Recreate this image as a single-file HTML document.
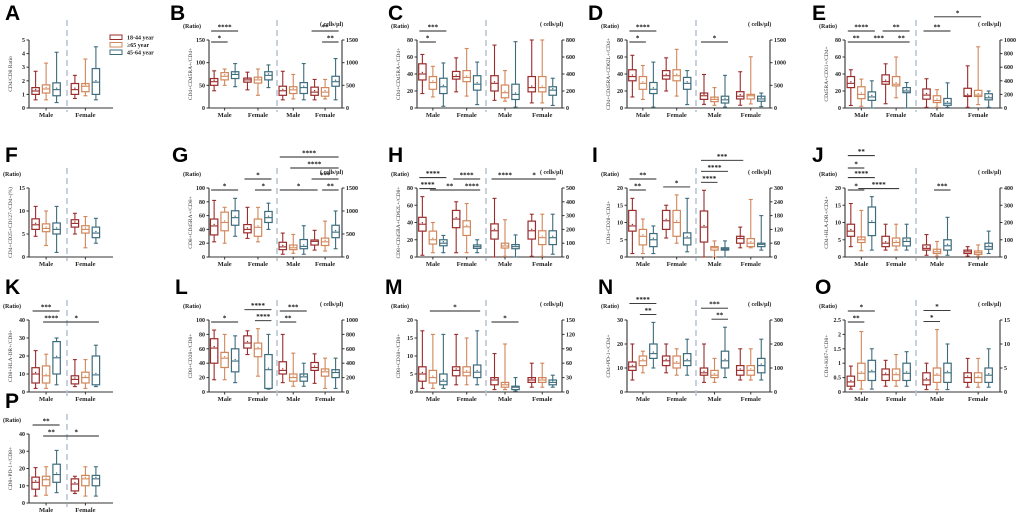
<!DOCTYPE html>
<html><head><meta charset="utf-8"><style>
html,body{margin:0;padding:0;background:#fff;}
svg{display:block;font-family:"Liberation Serif",serif;}
.lt{font-family:"Liberation Sans",sans-serif;font-weight:bold;font-size:21px;fill:#000;}
.tk{font-size:6px;font-weight:bold;fill:#222;}
.gx{font-size:6.5px;font-weight:bold;fill:#222;}
.ttl{font-size:5.5px;fill:#333;}
.st{font-size:7px;font-weight:bold;fill:#111;}
</style></head><body>
<svg id="fig" width="1020" height="514" viewBox="0 0 1020 514" xmlns="http://www.w3.org/2000/svg"></svg>
<script>
// ---- data: [min,q1,median,q3,max] per box; order Male(18-44, >=65, 45-64), Female(...)
const groups = ["Male","Female"];
const A_ratio=[[0.6,1.0,1.25,1.5,2.7],[0.6,1.1,1.4,1.7,3.3],[0.4,0.9,1.35,1.85,4.1],[0.7,1.0,1.35,1.8,2.4],[0.9,1.2,1.6,1.8,3.6],[0.6,1.0,1.9,2.9,4.5]];
const A_ticks=[0,1,2,3,4,5];
const B_ratio=[[38,50,58,65,82],[50,62,70,78,86],[47,65,74,80,98],[40,57,62,66,79],[28,55,62,68,86],[45,62,72,80,95]];
const B_cells=[[180,280,380,480,810],[200,320,400,470,740],[180,320,450,560,980],[180,280,350,460,630],[200,260,350,450,630],[180,480,580,700,1090]];
const B_rt=[0,50,100,150]; const B_ct=[0,500,1000,1500];
const C_ratio=[[17,33,40,52,63],[13,22,30,37,49],[2,17,25,35,53],[19,34,37,43,59],[14,31,36,44,70],[4,21,28,38,54]];
const C_cells=[[90,200,290,380,740],[80,120,180,270,440],[10,100,160,280,780],[60,190,240,370,800],[60,190,240,370,800],[30,150,210,250,350]];
const C_rt=[0,20,40,60,80]; const C_ct=[0,200,400,600,800];
const D_ratio=[[13,32,37,45,62],[10,22,29,37,50],[1,17,22,30,54],[20,34,38,44,59],[14,32,38,45,69],[4,22,29,36,44]];
const D_cells=[[80,190,270,330,740],[60,140,190,240,450],[20,110,180,260,720],[60,200,260,360,800],[90,200,270,300,1130],[30,150,200,260,330]];
const D_rt=[0,20,40,60,80]; const D_ct=[0,500,1000,1500];
const E_ratio=[[3,24,29,37,45],[2,11,16,25,34],[0,9,13,19,32],[5,28,31,39,52],[12,26,28,37,60],[0,18,20,24,30]];
const E_cells=[[10,130,190,280,430],[10,80,110,180,270],[10,40,70,140,370],[10,170,180,290,620],[50,170,190,260,900],[10,120,150,210,250]];
const E_rt=[0,20,40,60,80]; const E_ct=[0,200,400,600,800,1000];
const F_ratio=[[4.5,6,7,8.3,11],[2.5,5.5,6.2,7.2,10],[1,5,6,7.4,11],[5,6.5,7.3,8.1,9.5],[2,5.2,6,6.8,8.8],[3,4.2,5.2,6.5,8.4]];
const F_ticks=[0,5,10,15];
const G_ratio=[[22,32,45,55,82],[20,38,50,65,72],[30,46,57,67,85],[27,35,40,47,72],[22,30,43,55,72],[40,50,57,66,78]];
const G_cells=[[60,160,220,320,520],[80,160,200,260,490],[60,180,230,380,680],[150,260,340,370,580],[130,250,330,410,780],[180,420,540,690,1000]];
const G_rt=[0,20,40,60,80,100]; const G_ct=[0,500,1000,1500];
const H_ratio=[[2,30,38,46,70],[5,15,20,30,40],[5,13,16,20,25],[5,34,44,54,64],[5,25,35,42,62],[5,10,12,14,20]];
const H_cells=[[0,130,190,240,425],[5,65,80,100,270],[0,60,75,90,160],[5,130,190,260,310],[5,90,140,190,310],[20,90,140,190,310]];
const H_rt=[0,20,40,60,80]; const H_ct=[0,100,200,300,400,500];
const I_ratio=[[1,7.5,9,13.5,17],[1,3.5,6,8,11],[1,3,5,6.8,9],[5.5,8,10.5,13.5,15],[4,6,10,13.5,18],[1.5,3.5,5.5,7,17]];
const I_cells=[[0,65,130,200,290],[0,30,40,45,70],[0,30,35,40,70],[40,60,80,90,130],[40,45,60,80,250],[30,45,55,60,180]];
const I_rt=[0,5,10,15,20]; const I_ct=[0,60,120,180,240,300];
const J_ratio=[[3,6,7.5,9.5,15.5],[1.8,4.2,5,5.8,13.5],[2,6.2,10,14.5,17.5],[2,3,4,6,9.5],[2,3.2,4.2,5.5,9.5],[2,3.2,4.5,5.5,9.5]];
const J_cells=[[10,40,50,70,130],[5,20,30,45,90],[10,40,65,100,230],[5,20,30,40,60],[5,15,25,35,70],[20,45,60,80,150]];
const J_rt=[0,5,10,15,20]; const J_ct=[0,100,200,300,400];
const K_ratio=[[2,5,10,13.5,23],[2,5,9,14.5,21],[4,10,19,28,30],[3,4.5,7,9,18],[2,5,8,11,18],[3,4,9.5,20,26]];
const K_ticks=[0,10,20,30,40];
const L_ratio=[[17,40,61,74,86],[17,34,47,55,80],[13,28,43,60,78],[52,61,68,78,85],[22,49,60,68,88],[4,5,31,52,80]];
const L_cells=[[130,250,300,420,800],[80,150,200,250,540],[80,150,210,250,400],[120,300,340,410,530],[50,220,280,320,470],[50,200,270,310,470]];
const L_rt=[0,20,40,60,80,100]; const L_ct=[0,200,400,600,800,1000];
const M_ratio=[[1,3,5,7,17],[1,2.5,4,6,16],[1,2,3,5,16],[2,4.5,6,7,16],[2,4.5,5.5,7,15],[2,4,5.5,7.5,17]];
const M_cells=[[5,15,25,30,80],[5,10,15,20,100],[2,5,10,12,30],[10,20,25,30,60],[10,20,25,30,60],[10,15,20,25,35]];
const M_rt=[0,5,10,15,20]; const M_ct=[0,30,60,90,120,150];
const N_ratio=[[5,9,10.5,12.5,20],[8,11,13,15,17],[10,14,16,20,29],[8,11,13,15,20],[7,10,12,15,18],[7,11,13,16,22]];
const N_cells=[[40,70,80,100,200],[40,60,70,90,140],[60,100,130,170,270],[50,70,90,110,180],[50,70,90,110,180],[50,80,110,140,220]];
const N_rt=[0,10,20,30]; const N_ct=[0,100,200,300];
const O_ratio=[[0.1,0.2,0.35,0.55,0.9],[0.1,0.4,0.65,1.0,2.1],[0.1,0.4,0.7,1.1,1.5],[0.2,0.4,0.6,0.8,1.1],[0.2,0.4,0.6,0.8,1.3],[0.2,0.4,0.65,1.0,1.4]];
const O_cells=[[0.5,1.5,2.5,4,6],[0.5,2,3.5,5,13],[0.5,2,4,6,10],[1,2,3,4,7],[1,2,3,4,7],[1,2,3.5,5,9]];
const O_rt=[0,0.5,1.0,1.5,2.0,2.5]; const O_ct=[0,5,10,15];
const P_ratio=[[4,8,12,15,20.5],[4.5,10,13.5,15.5,21],[6,12,16.5,22.5,30.5],[5.5,7,11,14,15.5],[4,10,14,16,21],[4,10,14,16,21]];
const P_ticks=[0,10,20,30,40];
// significance: [fromBox,toBox,level,label]
const B_sigR=[[0,1,0,"*"],[0,2,1,"****"]]; const B_sigC=[[4,5,0,"**"],[3,5,1,"**"]];
const C_sigR=[[0,1,0,"*"],[0,2,1,"***"]]; const C_sigC=[];
const D_sigR=[[0,1,0,"*"],[0,2,1,"****"]]; const D_sigC=[[0,2,0,"*"]];
const E_sigR=[[0,1,0,"**"],[1,4,0,"***"],[4,5,0,"**"],[0,2,1,"****"],[3,5,1,"**"]]; const E_sigC=[[0,2,1,"**"],[1,4,2,"*"]];
const G_sigR=[[0,2,0,"*"],[4,5,0,"*"],[3,5,1,"*"]]; const G_sigC=[[0,3,0,"*"],[4,5,0,"**"],[3,5,1,"***"],[1,5,2,"****"],[0,5,3,"****"]];
const H_sigR=[[0,1,0,"****"],[1,4,0,"**"],[4,5,0,"****"],[0,2,1,"****"],[3,5,1,"****"]]; const H_sigC=[[0,2,1,"****"],[2,5,1,"*"]];
const I_sigR=[[0,1,0,"**"],[3,5,0,"*"],[0,2,1,"**"]]; const I_sigC=[[0,1,0,"****"],[0,2,1,"****"],[0,3,2,"***"]];
const J_sigR=[[0,1,0,"*"],[1,4,0,"****"],[0,2,1,"****"],[0,1,2,"*"],[0,2,3,"**"]]; const J_sigC=[[1,2,0,"***"]];
const K_sig=[[1,2,0,"****"],[2,5,0,"*"],[0,2,1,"***"]];
const L_sigR=[[0,2,0,"*"],[4,5,0,"****"],[3,5,1,"****"]]; const L_sigC=[[0,1,0,"**"],[0,2,1,"***"]];
const M_sigR=[[1,5,1,"*"]]; const M_sigC=[[0,2,0,"*"]];
const N_sigR=[[1,2,0,"**"],[0,2,1,"****"]]; const N_sigC=[[1,2,0,"**"],[0,2,1,"***"]];
const O_sigR=[[0,1,0,"**"],[0,2,1,"*"]]; const O_sigC=[[0,1,0,"*"],[0,2,1,"*"]];
const P_sig=[[1,2,0,"**"],[2,5,0,"*"],[0,2,1,"**"]];

const COLORS=["#9b2c2c","#d2875a","#3d6c7d"];
const svg=document.getElementById('fig');
const NS="http://www.w3.org/2000/svg";
function el(tag,attrs,parent,text){const e=document.createElementNS(NS,tag);for(const k in attrs)e.setAttribute(k,attrs[k]);if(text!==undefined)e.textContent=text;(parent||svg).appendChild(e);return e;}

const ROWS=[{top:40,bot:108},{top:188,bot:257},{top:320,bot:392},{top:434,bot:503}];
const COLS=[{L:209,D:277,R:342},{L:417,D:486,R:562},{L:627,D:696,R:770},{L:845,D:916,R:1000}];
const SINGLE={L:29,D:67,R:113};

function yScale(v,max,row){return row.bot-(v/max)*(row.bot-row.top);}
function fmt(v){return String(v);}

function drawBoxes(g,data,max,row,centers,name){
  const bx=[];
  data.forEach((d,i)=>{
    const grp=Math.floor(i/3), k=i%3;
    const cx=centers[grp]+(k-1)*10.5;
    bx.push(cx);
    const c=COLORS[k];
    const bg=el('g',{},g);
    
    
    const y=d.map(v=>yScale(v,max,row));
    el('line',{x1:cx,x2:cx,y1:y[0],y2:y[1],stroke:c,'stroke-width':1.1},bg);
    el('line',{x1:cx,x2:cx,y1:y[3],y2:y[4],stroke:c,'stroke-width':1.1},bg);
    el('line',{x1:cx-2,x2:cx+2,y1:y[0],y2:y[0],stroke:c,'stroke-width':1.1},bg);
    el('line',{x1:cx-2,x2:cx+2,y1:y[4],y2:y[4],stroke:c,'stroke-width':1.1},bg);
    el('rect',{x:cx-3.7,y:y[3],width:7.4,height:Math.max(0.5,y[1]-y[3]),fill:'none',stroke:c,'stroke-width':1.2},bg);
    el('line',{x1:cx-3.7,x2:cx+3.7,y1:y[2],y2:y[2],stroke:c,'stroke-width':1.1},bg);
    el('circle',{cx:cx,cy:y[2]-1.5,r:0.7,fill:c},bg);
  });
  return bx;
}
function drawSigs(g,sigs,data,bx,max,row,name){
  sigs.forEach((s,i)=>{
    let m=0;for(let j=s[0];j<=s[1];j++)m=Math.max(m,data[j][4]);
    const y=Math.min(yScale(m,max,row),row.top+10)-8-s[2]*11;
    const sg=el('g',{},g);
    
    
    el('line',{x1:bx[s[0]]-3,x2:bx[s[1]]+3,y1:y,y2:y,stroke:'#222','stroke-width':0.9},sg);
    el('text',{x:(bx[s[0]]+bx[s[1]])/2,y:y-1.5,'text-anchor':'middle',class:'st'},sg,s[3]);
  });
}
function leftAxis(g,x,ticks,row,title){
  const max=ticks[ticks.length-1];
  el('line',{x1:x,x2:x,y1:row.top,y2:row.bot,stroke:'#333','stroke-width':1.1},g);
  ticks.forEach(t=>{const y=yScale(t,max,row);
    el('line',{x1:x-2.5,x2:x,y1:y,y2:y,stroke:'#333','stroke-width':1},g);
    el('text',{x:x-4,y:y+2,'text-anchor':'end',class:'tk'},g,fmt(t));});
  const cy=(row.top+row.bot)/2;
  const t=el('text',{x:x-17,y:cy,'text-anchor':'middle',class:'ttl',transform:`rotate(-90 ${x-17} ${cy})`},g,title);
  
  
}
function rightAxis(g,x,ticks,row){
  const max=ticks[ticks.length-1];
  el('line',{x1:x,x2:x,y1:row.top,y2:row.bot,stroke:'#333','stroke-width':1.1},g);
  ticks.forEach(t=>{const y=yScale(t,max,row);
    el('line',{x1:x,x2:x+2.5,y1:y,y2:y,stroke:'#333','stroke-width':1},g);
    el('text',{x:x+4,y:y+2,class:'tk'},g,fmt(t));});
  el('text',{x:x-22,y:row.top-14,class:'tk'},g,'( cells/\u00b5l)');
}
function xLabels(g,centers,row){
  centers.forEach((c,i)=>{
    el('line',{x1:c,x2:c,y1:row.bot,y2:row.bot+2.5,stroke:'#333','stroke-width':1},g);
    el('text',{x:c,y:row.bot+9,'text-anchor':'middle',class:'gx'},g,groups[i]);});
}
function divider(g,x,row){
  const d=el('line',{x1:x,x2:x,y1:row.top-20,y2:row.bot+4,stroke:'#b9c6d2','stroke-width':1.6,'stroke-dasharray':'6 4'},g);
  
  
}

function singlePanel(letter,lx,rowI,data,ticks,title,sigs){
  const row=ROWS[rowI],c=SINGLE;
  const g=el('g',{});
  
  
  el('text',{x:lx,y:row.top-(rowI===0?20:26),class:'lt'},g,letter);
  const max=ticks[ticks.length-1];
  leftAxis(g,c.L,ticks,row,title);
  if(rowI>0) el('text',{x:c.L-26,y:row.top-12,class:'tk','font-weight':'normal'},g,'(Ratio)');
  el('line',{x1:c.L,x2:c.R,y1:row.bot,y2:row.bot,stroke:'#333','stroke-width':1.1},g);
  const centers=[c.L+(c.D-c.L)*0.45,c.D+(c.R-c.D)*0.4];
  divider(g,c.D,row);
  const bx=drawBoxes(g,data,max,row,centers,'panel-'+letter.toLowerCase());
  xLabels(g,centers,row);
  if(sigs)drawSigs(g,sigs,data,bx,max,row,'panel-'+letter.toLowerCase());
}
function dualPanel(letter,lx,rowI,colI,ratio,cells,rt,ct,title,sigR,sigC){
  const row=ROWS[rowI],c=COLS[colI];
  const g=el('g',{});
  
  
  el('text',{x:lx,y:row.top-(rowI===0?20:26),class:'lt'},g,letter);
  el('text',{x:c.L-26,y:row.top-12,class:'tk','font-weight':'normal'},g,'(Ratio)');
  const rmax=rt[rt.length-1],cmax=ct[ct.length-1];
  leftAxis(g,c.L,rt,row,title);
  rightAxis(g,c.R,ct,row);
  el('line',{x1:c.L,x2:c.R,y1:row.bot,y2:row.bot,stroke:'#333','stroke-width':1.1},g);
  divider(g,c.D,row);
  const lc=[c.L+(c.D-c.L)*0.23,c.L+(c.D-c.L)*0.72];
  const rc=[c.D+(c.R-c.D)*0.25,c.D+(c.R-c.D)*0.74];
  const n='panel-'+letter.toLowerCase();
  const bl=drawBoxes(g,ratio,rmax,row,lc,n+'-ratio');
  const br=drawBoxes(g,cells,cmax,row,rc,n+'-cells');
  xLabels(g,lc,row);xLabels(g,rc,row);
  drawSigs(g,sigR,ratio,bl,rmax,row,n+'-ratio');
  drawSigs(g,sigC,cells,br,cmax,row,n+'-cells');
}

singlePanel('A',5,0,A_ratio,A_ticks,'CD4/CD8 Ratio',null);
dualPanel('B',170,0,0,B_ratio,B_cells,B_rt,B_ct,'CD4+CD45RA+/CD4+',B_sigR,B_sigC);
dualPanel('C',388,0,1,C_ratio,C_cells,C_rt,C_ct,'CD4+CD45RA+/CD4+',C_sigR,C_sigC);
dualPanel('D',588,0,2,D_ratio,D_cells,D_rt,D_ct,'CD4+CD45RA+CD62L+/CD4+',D_sigR,D_sigC);
dualPanel('E',812,0,3,E_ratio,E_cells,E_rt,E_ct,'CD45RA+CD31+/CD4+',E_sigR,E_sigC);
singlePanel('F',5,1,F_ratio,F_ticks,'CD4+CD25+CD127-/CD4+(%)',null);
dualPanel('G',172,1,0,G_ratio,G_cells,G_rt,G_ct,'CD8+CD45RA+/CD8+',G_sigR,G_sigC);
dualPanel('H',388,1,1,H_ratio,H_cells,H_rt,H_ct,'CD8+CD45RA+CD62L+/CD8+',H_sigR,H_sigC);
dualPanel('I',592,1,2,I_ratio,I_cells,I_rt,I_ct,'CD4+CD28-/CD4+',I_sigR,I_sigC);
dualPanel('J',812,1,3,J_ratio,J_cells,J_rt,J_ct,'CD4+HLA-DR+/CD4+',J_sigR,J_sigC);
singlePanel('K',5,2,K_ratio,K_ticks,'CD8+HLA-DR+/CD8+',K_sig);
dualPanel('L',175,2,0,L_ratio,L_cells,L_rt,L_ct,'CD8+CD28+/CD8+',L_sigR,L_sigC);
dualPanel('M',385,2,1,M_ratio,M_cells,M_rt,M_ct,'CD8+CD38+/CD8+',M_sigR,M_sigC);
dualPanel('N',598,2,2,N_ratio,N_cells,N_rt,N_ct,'CD4+PD-1+/CD4+',N_sigR,N_sigC);
dualPanel('O',815,2,3,O_ratio,O_cells,O_rt,O_ct,'CD4+Ki67+/CD8+',O_sigR,O_sigC);
singlePanel('P',5,3,P_ratio,P_ticks,'CD8+PD-1+/CD8+',P_sig);

// legend
const legendLabels=["18-44 year","\u226565 year","45-64 year"];
const lg=el('g',{});


legendLabels.forEach((t,i)=>{
  const y=35+i*7.5;
  const e=el('g',{},lg);
  
  
  el('rect',{x:110,y:y,width:12,height:4.5,fill:'none',stroke:COLORS[i],'stroke-width':1},e);
  el('text',{x:127,y:y+4.5,class:'tk','font-weight':'normal','font-size':'6.5'},e,t);
});
</script>
</body></html>
